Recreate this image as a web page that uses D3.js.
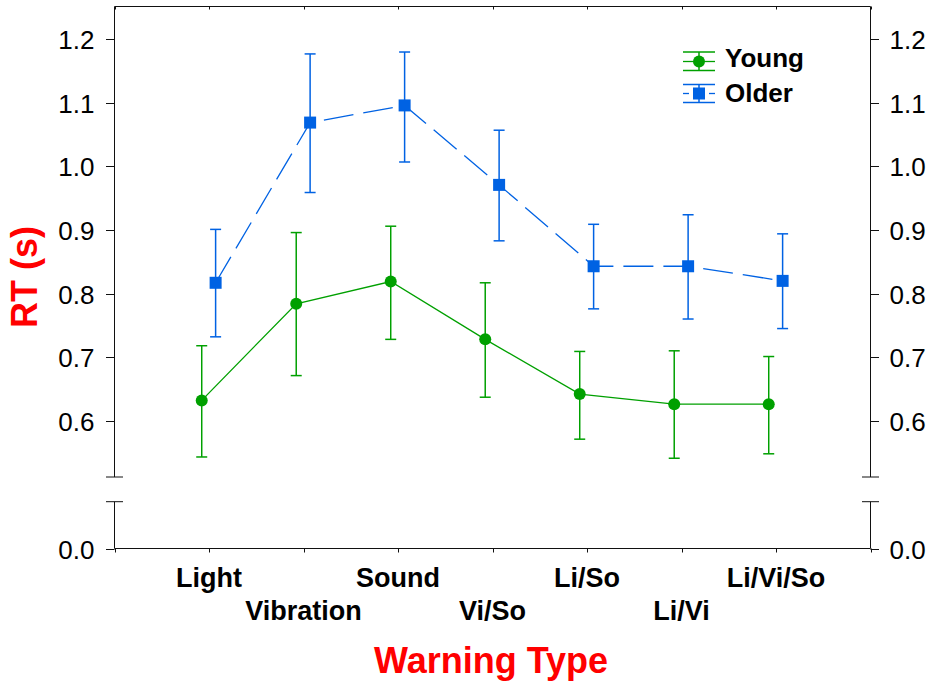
<!DOCTYPE html>
<html>
<head>
<meta charset="utf-8">
<script src="https://cdn.jsdelivr.net/npm/d3@7"></script>
<style>
  html, body { margin: 0; padding: 0; background: #fff; }
  svg text { font-family: Arial, "Liberation Sans", sans-serif; }
</style>
</head>
<body>
<svg id="chart" width="931" height="683"></svg>
<script>
// Reaction time by warning type, two age groups (mean with error bars)
const categories = ["Light", "Vibration", "Sound", "Vi/So", "Li/So", "Li/Vi", "Li/Vi/So"];

const youngMean = [0.632, 0.784, 0.819, 0.728, 0.642, 0.626, 0.626];
const youngLow  = [0.543, 0.671, 0.728, 0.637, 0.571, 0.541, 0.548];
const youngHigh = [0.718, 0.896, 0.906, 0.817, 0.709, 0.710, 0.701];

const olderMean = [0.817, 1.069, 1.096, 0.971, 0.843, 0.843, 0.820];
const olderLow  = [0.732, 0.959, 1.007, 0.883, 0.776, 0.760, 0.745];
const olderHigh = [0.901, 1.177, 1.180, 1.057, 0.909, 0.924, 0.894];

const upperTicks = [0.6, 0.7, 0.8, 0.9, 1.0, 1.1, 1.2];
const lowerTicks = [0.0];

const seriesNames = ["Young", "Older"];

const GREEN = "#00a000";
const BLUE = "#0062e3";

const svg = d3.select("#chart");

// Horizontal: categories sit at 1..7 on a 0..8 linear axis
const x = d3.scaleLinear().domain([0, categories.length + 1]).range([114.5, 870.5]);

// Broken vertical axis: main panel and a short panel near zero
const yMain = d3.scaleLinear().domain([0.5115, 1.2516]).range([477, 6.5]);
const yLow = d3.scaleLinear().domain([0, 0.0728]).range([548.5, 501.7]);

const axisColor = "#111";
const xl = x.range()[0], xr = x.range()[1];

// Frame: top line and bottom axis line
svg.append("line").attr("x1", xl).attr("x2", xr).attr("y1", 6.5).attr("y2", 6.5)
  .attr("stroke", axisColor);
svg.append("line").attr("x1", xl).attr("x2", xr).attr("y1", 548.5).attr("y2", 548.5)
  .attr("stroke", axisColor);

// Category boundary ticks: bottom (outward) and top (inward)
const xTickVals = d3.range(0, categories.length + 2);
svg.append("g").selectAll("line").data(xTickVals).join("line")
  .attr("x1", d => Math.round(x(d)) + 0.5).attr("x2", d => Math.round(x(d)) + 0.5)
  .attr("y1", 548.5).attr("y2", 552.5).attr("stroke", axisColor);
svg.append("g").selectAll("line").data(xTickVals).join("line")
  .attr("x1", d => Math.round(x(d)) + 0.5).attr("x2", d => Math.round(x(d)) + 0.5)
  .attr("y1", 6.5).attr("y2", 9.5).attr("stroke", axisColor);

// Vertical axes on both sides, each drawn in two segments with break marks
function sideAxis(xPos, outward) {
  const g = svg.append("g");
  g.append("line").attr("x1", xPos).attr("x2", xPos).attr("y1", 6.5).attr("y2", 477)
    .attr("stroke", axisColor);
  g.append("line").attr("x1", xPos).attr("x2", xPos).attr("y1", 501.7).attr("y2", 548.5)
    .attr("stroke", axisColor);
  [477, 501.7].forEach(yy => {
    g.append("line").attr("x1", xPos - 8.5).attr("x2", xPos + 8.5).attr("y1", yy).attr("y2", yy)
      .attr("stroke", axisColor);
  });
  const tickLen = 8.5 * outward;
  const labels = upperTicks.map(v => ({ v, y: Math.round(yMain(v)) + 0.5 }))
    .concat(lowerTicks.map(v => ({ v, y: Math.round(yLow(v)) + 0.5 })));
  g.selectAll("line.tk").data(labels).join("line").attr("class", "tk")
    .attr("x1", xPos).attr("x2", xPos + tickLen)
    .attr("y1", d => d.y).attr("y2", d => d.y).attr("stroke", axisColor);
  const lx = outward < 0 ? xPos - 20 : xPos + 19;
  const anchor = outward < 0 ? "end" : "start";
  g.selectAll("text").data(labels).join("text")
    .attr("x", lx).attr("y", d => d.y + 9.5)
    .attr("text-anchor", anchor)
    .attr("font-size", 26).attr("fill", "#000")
    .text(d => d3.format(".1f")(d.v));
}
sideAxis(xl, -1);
sideAxis(xr, 1);

// Category labels, staggered on two rows
svg.append("g").selectAll("text").data(categories).join("text")
  .attr("x", (d, i) => x(i + 1))
  .attr("y", (d, i) => i % 2 === 0 ? 587 : 620)
  .attr("text-anchor", "middle")
  .attr("font-size", 27).attr("font-weight", "bold").attr("fill", "#000")
  .text(d => d);

// Axis titles
svg.append("text")
  .attr("x", 491).attr("y", 673)
  .attr("text-anchor", "middle")
  .attr("font-size", 36).attr("font-weight", "bold").attr("fill", "#ff0000")
  .text("Warning Type");
svg.append("text")
  .attr("transform", "translate(37,277) rotate(-90)")
  .attr("text-anchor", "middle")
  .attr("font-size", 36).attr("font-weight", "bold").attr("fill", "#ff0000")
  .text("RT (s)");

// Series
const series = [
  { name: seriesNames[0], mean: youngMean, low: youngLow, high: youngHigh, color: GREEN, offset: -0.077, shape: "circle", dash: null },
  { name: seriesNames[1], mean: olderMean, low: olderLow, high: olderHigh, color: BLUE, offset: 0.07, shape: "square", dash: "30,10" }
];

const capHalf = 5.5;

series.forEach(s => {
  const pts = s.mean.map((m, i) => ({ x: x(i + 1 + s.offset), m, lo: s.low[i], hi: s.high[i] }));
  const g = svg.append("g");

  const line = d3.line().x(d => d.x).y(d => yMain(d.m));
  g.append("path").datum(pts)
    .attr("d", line)
    .attr("fill", "none").attr("stroke", s.color).attr("stroke-width", 1.3)
    .attr("stroke-dasharray", s.dash);

  // error bars
  g.selectAll("line.eb").data(pts).join("line").attr("class", "eb")
    .attr("x1", d => d.x).attr("x2", d => d.x)
    .attr("y1", d => yMain(d.hi)).attr("y2", d => yMain(d.lo))
    .attr("stroke", s.color).attr("stroke-width", 1.5);
  ["hi", "lo"].forEach(k => {
    g.selectAll("line.cap" + k).data(pts).join("line").attr("class", "cap" + k)
      .attr("x1", d => d.x - capHalf).attr("x2", d => d.x + capHalf)
      .attr("y1", d => yMain(d[k])).attr("y2", d => yMain(d[k]))
      .attr("stroke", s.color).attr("stroke-width", 1.5);
  });

  // markers
  if (s.shape === "circle") {
    g.selectAll("circle").data(pts).join("circle")
      .attr("cx", d => d.x).attr("cy", d => yMain(d.m)).attr("r", 6)
      .attr("fill", s.color);
  } else {
    g.selectAll("rect").data(pts).join("rect")
      .attr("x", d => d.x - 6).attr("y", d => yMain(d.m) - 6)
      .attr("width", 12).attr("height", 12)
      .attr("fill", s.color);
  }
});

// Legend
const legend = svg.append("g");
const legendRows = [
  { s: series[0], y: 61.5, top: 52, bottom: 70.5, base: 67 },
  { s: series[1], y: 93.5, top: 84.5, bottom: 102.5, base: 101.5 }
];
legendRows.forEach(r => {
  const c = r.s.color;
  const x0 = 683, x1 = 715, cx = 699;
  legend.append("line").attr("x1", x0).attr("x2", x1).attr("y1", r.top).attr("y2", r.top).attr("stroke", c).attr("stroke-width", 1.5);
  legend.append("line").attr("x1", x0).attr("x2", x1).attr("y1", r.bottom).attr("y2", r.bottom).attr("stroke", c).attr("stroke-width", 1.5);
  legend.append("line").attr("x1", cx).attr("x2", cx).attr("y1", r.top).attr("y2", r.bottom).attr("stroke", c).attr("stroke-width", 1.5);
  if (r.s.dash) {
    legend.append("line").attr("x1", x0).attr("x2", 689).attr("y1", r.y).attr("y2", r.y).attr("stroke", c).attr("stroke-width", 1.3);
    legend.append("line").attr("x1", 709).attr("x2", x1).attr("y1", r.y).attr("y2", r.y).attr("stroke", c).attr("stroke-width", 1.3);
  } else {
    legend.append("line").attr("x1", x0).attr("x2", x1).attr("y1", r.y).attr("y2", r.y).attr("stroke", c).attr("stroke-width", 1.3);
  }
  if (r.s.shape === "circle") {
    legend.append("circle").attr("cx", cx).attr("cy", r.y).attr("r", 6).attr("fill", c);
  } else {
    legend.append("rect").attr("x", cx - 6).attr("y", r.y - 6).attr("width", 12).attr("height", 12).attr("fill", c);
  }
  legend.append("text").attr("x", 725).attr("y", r.base)
    .attr("font-size", 26).attr("font-weight", "bold").attr("fill", "#000")
    .text(r.s.name);
});
</script>
</body>
</html>
